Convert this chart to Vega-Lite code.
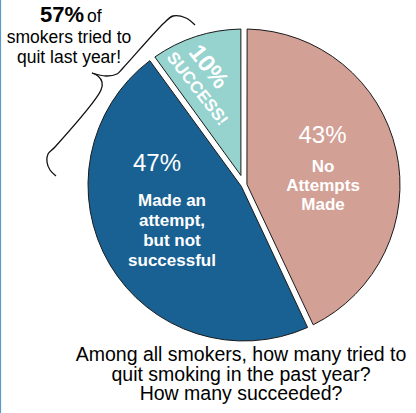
{
  "$schema": "https://vega.github.io/schema/vega-lite/v6.json",
  "width": 416,
  "height": 413,
  "autosize": {"type": "none"},
  "padding": 0,
  "background": "white",
  "config": {"view": {"stroke": null}, "text": {"font": "Liberation Sans"}},
  "datasets": {
    "slices": [
      {"group": "No Attempts Made", "value": 43, "pct": "43%", "label": "No\nAttempts\nMade", "order": 1},
      {"group": "Made an attempt, but not successful", "value": 47, "pct": "47%", "label": "Made an\nattempt,\nbut not\nsuccessful", "order": 2},
      {"group": "Success", "value": 10, "pct": "10%", "label": "SUCCESS!", "order": 3}
    ],
    "brace": [
      {"part": "upper", "i": 1, "x": 195, "y": 25},
      {"part": "upper", "i": 2, "x": 186, "y": 18},
      {"part": "upper", "i": 3, "x": 173, "y": 16},
      {"part": "upper", "i": 4, "x": 164, "y": 23},
      {"part": "upper", "i": 5, "x": 123, "y": 68},
      {"part": "upper", "i": 6, "x": 117, "y": 74},
      {"part": "upper", "i": 7, "x": 106, "y": 76},
      {"part": "upper", "i": 8, "x": 92, "y": 73},
      {"part": "lower", "i": 1, "x": 92, "y": 73},
      {"part": "lower", "i": 2, "x": 98, "y": 76},
      {"part": "lower", "i": 3, "x": 102, "y": 82},
      {"part": "lower", "i": 4, "x": 101, "y": 90},
      {"part": "lower", "i": 5, "x": 55, "y": 147},
      {"part": "lower", "i": 6, "x": 48, "y": 154},
      {"part": "lower", "i": 7, "x": 47, "y": 162},
      {"part": "lower", "i": 8, "x": 50, "y": 170},
      {"part": "lower", "i": 9, "x": 56, "y": 176}
    ],
    "one": [{}]
  },
  "layer": [
    {
      "data": {"name": "one"},
      "mark": {"type": "rule", "color": "#5B9BC9", "strokeWidth": 1.2},
      "encoding": {
        "x": {"datum": 0.5, "type": "quantitative", "scale": {"domain": [0, 416], "nice": false, "zero": false}, "axis": null}
      }
    },
    {
      "data": {"name": "slices"},
      "mark": {"type": "arc", "radius": 156, "radius2": 3, "padAngle": 0.04, "stroke": "#1a1a1a", "strokeWidth": 1},
      "encoding": {
        "x": {"datum": 244, "type": "quantitative", "scale": {"domain": [0, 416], "nice": false, "zero": false}, "axis": null},
        "y": {"datum": 185, "type": "quantitative", "scale": {"domain": [0, 413], "reverse": true, "nice": false, "zero": false}, "axis": null},
        "theta": {"field": "value", "type": "quantitative", "stack": true},
        "order": {"field": "order", "type": "quantitative"},
        "color": {"field": "group", "type": "nominal", "scale": {"domain": ["No Attempts Made", "Made an attempt, but not successful", "Success"], "range": ["#D3A096", "#196193", "#96D2CE"]}, "legend": null},
        "opacity": {"condition": {"test": "datum.order == 3", "value": 0}, "value": 1}
      }
    },
    {
      "data": {"name": "slices"},
      "mark": {"type": "arc", "radius": 156, "radius2": 10, "padAngle": 0.04, "stroke": "#1a1a1a", "strokeWidth": 1},
      "encoding": {
        "x": {"datum": 244, "type": "quantitative", "scale": {"domain": [0, 416], "nice": false, "zero": false}, "axis": null},
        "y": {"datum": 185, "type": "quantitative", "scale": {"domain": [0, 413], "reverse": true, "nice": false, "zero": false}, "axis": null},
        "theta": {"field": "value", "type": "quantitative", "stack": true},
        "order": {"field": "order", "type": "quantitative"},
        "color": {"field": "group", "type": "nominal", "legend": null},
        "opacity": {"condition": {"test": "datum.order == 3", "value": 1}, "value": 0}
      }
    },
    {
      "data": {"name": "brace"},
      "mark": {"type": "line", "color": "#111111", "strokeWidth": 1.3, "interpolate": "catmull-rom"},
      "encoding": {
        "x": {"field": "x", "type": "quantitative", "scale": {"domain": [0, 416], "nice": false, "zero": false}, "axis": null},
        "y": {"field": "y", "type": "quantitative", "scale": {"domain": [0, 413], "reverse": true, "nice": false, "zero": false}, "axis": null},
        "detail": {"field": "part"},
        "order": {"field": "i", "type": "quantitative"}
      }
    },
    {
      "data": {"name": "slices"},
      "transform": [{"filter": "datum.order == 1"}],
      "mark": {"type": "text", "color": "white", "fontSize": 24, "align": "center", "baseline": "alphabetic"},
      "encoding": {
        "x": {"datum": 322.5, "type": "quantitative"},
        "y": {"datum": 143, "type": "quantitative"},
        "text": {"field": "pct"}
      }
    },
    {
      "data": {"name": "slices"},
      "transform": [{"filter": "datum.order == 1"}],
      "mark": {"type": "text", "color": "white", "fontSize": 17, "fontWeight": "bold", "align": "center", "baseline": "alphabetic", "lineBreak": "\n", "lineHeight": 19},
      "encoding": {
        "x": {"datum": 323, "type": "quantitative"},
        "y": {"datum": 172, "type": "quantitative"},
        "text": {"field": "label"}
      }
    },
    {
      "data": {"name": "slices"},
      "transform": [{"filter": "datum.order == 2"}],
      "mark": {"type": "text", "color": "white", "fontSize": 24, "align": "center", "baseline": "alphabetic"},
      "encoding": {
        "x": {"datum": 157, "type": "quantitative"},
        "y": {"datum": 171, "type": "quantitative"},
        "text": {"field": "pct"}
      }
    },
    {
      "data": {"name": "slices"},
      "transform": [{"filter": "datum.order == 2"}],
      "mark": {"type": "text", "color": "white", "fontSize": 17, "fontWeight": "bold", "align": "center", "baseline": "alphabetic", "lineBreak": "\n", "lineHeight": 20},
      "encoding": {
        "x": {"datum": 172, "type": "quantitative"},
        "y": {"datum": 206, "type": "quantitative"},
        "text": {"field": "label"}
      }
    },
    {
      "data": {"name": "slices"},
      "transform": [{"filter": "datum.order == 3"}],
      "mark": {"type": "text", "color": "white", "fontSize": 24, "fontWeight": "bold", "align": "center", "baseline": "middle", "angle": 52},
      "encoding": {
        "x": {"datum": 208, "type": "quantitative"},
        "y": {"datum": 67, "type": "quantitative"},
        "text": {"field": "pct"}
      }
    },
    {
      "data": {"name": "slices"},
      "transform": [{"filter": "datum.order == 3"}],
      "mark": {"type": "text", "color": "white", "fontSize": 17, "fontWeight": "bold", "align": "center", "baseline": "middle", "angle": 52},
      "encoding": {
        "x": {"datum": 197, "type": "quantitative"},
        "y": {"datum": 89, "type": "quantitative"},
        "text": {"field": "label"}
      }
    },
    {
      "data": {"name": "one"},
      "mark": {"type": "text", "text": "57%", "color": "black", "fontSize": 22, "fontWeight": "bold", "align": "right", "baseline": "alphabetic"},
      "encoding": {
        "x": {"datum": 84, "type": "quantitative"},
        "y": {"datum": 22, "type": "quantitative"}
      }
    },
    {
      "data": {"name": "one"},
      "mark": {"type": "text", "text": "of", "color": "black", "fontSize": 17.5, "align": "left", "baseline": "alphabetic"},
      "encoding": {
        "x": {"datum": 87, "type": "quantitative"},
        "y": {"datum": 22, "type": "quantitative"}
      }
    },
    {
      "data": {"name": "one"},
      "mark": {"type": "text", "text": ["smokers tried to", "quit last year!"], "color": "black", "fontSize": 17.5, "align": "center", "baseline": "alphabetic", "lineHeight": 20},
      "encoding": {
        "x": {"datum": 69, "type": "quantitative"},
        "y": {"datum": 43, "type": "quantitative"}
      }
    },
    {
      "data": {"name": "one"},
      "mark": {"type": "text", "text": ["Among all smokers, how many tried to", "quit smoking in the past year?", "How many succeeded?"], "color": "black", "fontSize": 19.5, "align": "center", "baseline": "alphabetic", "lineHeight": 19.5},
      "encoding": {
        "x": {"datum": 241, "type": "quantitative"},
        "y": {"datum": 361, "type": "quantitative"}
      }
    }
  ]
}
